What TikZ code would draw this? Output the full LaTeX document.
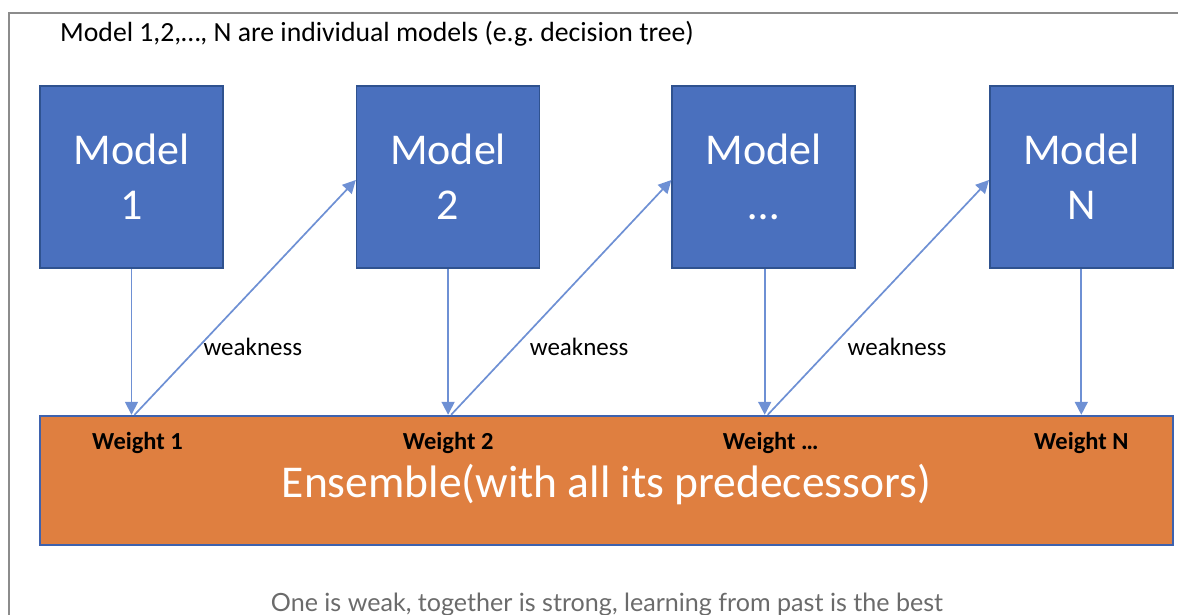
\documentclass[tikz,border=0pt]{standalone}
\usepackage{fontspec}
\setmainfont{Carlito}
\newfontfamily\captionfont{Lato}
\usetikzlibrary{arrows.meta,positioning}
\definecolor{modelblue}{HTML}{4A70BE}
\definecolor{modeledge}{HTML}{2F528F}
\definecolor{ensorange}{HTML}{DF7F40}
\definecolor{ensedge}{HTML}{3E62AE}
\definecolor{linkblue}{HTML}{6E90D4}
\definecolor{framegray}{HTML}{8C8C8C}
\definecolor{notegray}{HTML}{6B6B6B}
\tikzset{
  modelbox/.style={draw=modeledge,line width=1.6pt,fill=modelblue,text=white,
    minimum width=183pt,minimum height=182pt,align=center,inner sep=0pt,
    font=\fontsize{44}{55}\selectfont},
  ensbox/.style={draw=ensedge,line width=2.4pt,fill=ensorange,
    minimum width=1133pt,minimum height=129pt,inner sep=0pt},
  wlabel/.style={anchor=base,inner sep=0pt,font=\bfseries\fontsize{24.5}{28}\selectfont},
  flow/.style={-{Triangle[length=13pt,width=13pt]},line width=1.7pt,draw=linkblue},
  weaklabel/.style={anchor=west,inner sep=0pt,xshift=4pt,font=\fontsize{25}{29}\selectfont},
}
\begin{document}
\begin{tikzpicture}[x=1pt,y=-1pt,node distance=132pt]
  \useasboundingbox (0,0) rectangle (1178,615);
  % frame lines along the top and left edge
  \draw[framegray,line width=1.5pt] (9,615) -- (9,13) -- (1178,13);
  \node[anchor=base west,inner sep=0pt,font=\fontsize{27.7}{32}\selectfont] (title) at (60,42)
    {Model 1,2,…, N are individual models (e.g.\ decision tree)};

  % the individual models
  \node[modelbox] (m1) at (131.5,177) {Model\\1};
  \node[modelbox,right=of m1] (m2) {Model\\2};
  \node[modelbox,right=131pt of m2] (m3) {Model\\…};
  \node[modelbox,right=133pt of m3] (mN) {Model\\N};

  % the ensemble
  \node[ensbox] (ens) at (606.5,480.5) {};
  \node[anchor=base,inner sep=0pt,text=white,font=\fontsize{45.5}{54}\selectfont] (enstext)
    at (606.5,497) {Ensemble(with all its predecessors)};

  \coordinate (w1) at (m1 |- ens.north);
  \coordinate (w2) at (m2 |- ens.north);
  \coordinate (w3) at ([xshift=1pt]m3 |- ens.north);
  \coordinate (wN) at (mN |- ens.north);

  \node[wlabel] (wl1) at ([xshift=6pt,yshift=-35pt]w1) {Weight 1};
  \node[wlabel] (wl2) at ([yshift=-35pt]w2) {Weight 2};
  \node[wlabel] (wl3) at ([xshift=6pt,yshift=-35pt]w3) {Weight …};
  \node[wlabel] (wlN) at ([yshift=-35pt]wN) {Weight N};

  % model outputs into the ensemble
  \draw[flow] (m1) -- (w1);
  \draw[flow] (m2) -- (w2);
  \draw[flow] (m3.south -| w3) -- (w3);
  \draw[flow] (mN) -- (wN);

  % weakness passed on to the next model
  \draw[flow] ([xshift=3pt]w1) -- node[weaklabel,pos=0.29] {weakness} ([yshift=-3pt]m2.west);
  \draw[flow] ([xshift=3pt]w2) -- node[weaklabel,pos=0.29,xshift=10pt] {weakness} ([yshift=-3pt]m3.west);
  \draw[flow] ([xshift=3pt]w3) -- node[weaklabel,pos=0.29,xshift=11pt] {weakness} ([yshift=-3pt]mN.west);

  \node[anchor=base,inner sep=0pt,text=notegray,font=\captionfont\fontsize{25.1}{29}\selectfont] (note)
    at (607,611) {One is weak, together is strong, learning from past is the best};
\end{tikzpicture}
\end{document}
